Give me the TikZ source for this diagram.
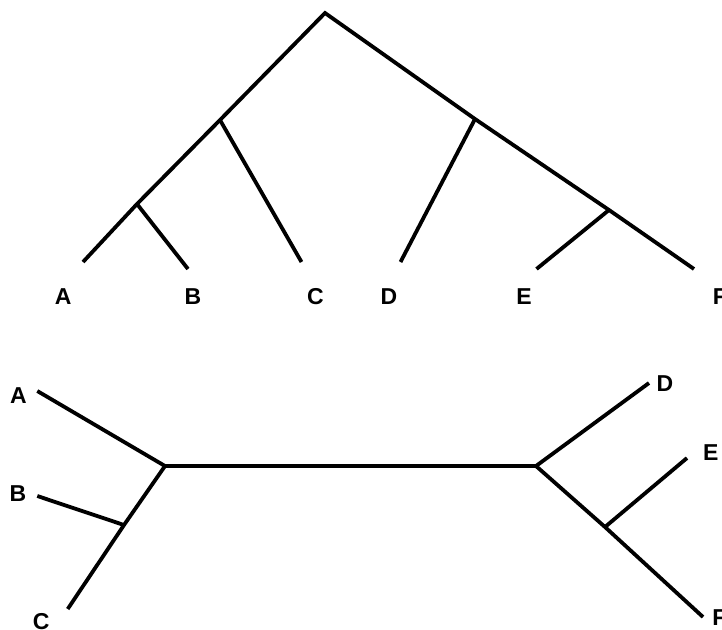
\documentclass[tikz,border=0pt]{standalone}
\usepackage{fontspec}
\setmainfont{Liberation Sans}
\begin{document}
\begin{tikzpicture}[x=1pt,y=-1pt,
  edge/.style={line width=3.8pt, line join=miter},
  leaf/.style={inner sep=0pt, font=\fontsize{23}{27}\selectfont\bfseries}]
\useasboundingbox (0,0) rectangle (722,629);
% ---- top rooted tree ----
\coordinate (root) at (325,13);
\coordinate (tl1) at (220,120);
\coordinate (tl2) at (137,204);
\coordinate (tr1) at (475,119);
\coordinate (tr2) at (609,210);
\coordinate (tA) at (83,262);
\coordinate (tB) at (188,269);
\coordinate (tC) at (301.5,262);
\coordinate (tD) at (400.5,262);
\coordinate (tE) at (536.5,269);
\coordinate (tF) at (694,269);
\draw[edge] (tA) -- (tl2) -- (tl1) -- (root) -- (tr1) -- (tr2) -- (tF);
\draw[edge] (tl2) -- (tB);
\draw[edge] (tl1) -- (tC);
\draw[edge] (tr1) -- (tD);
\draw[edge] (tr2) -- (tE);
\node[leaf] (LtA) at (63.3,297) {A};
\node[leaf] (LtB) at (193,297) {B};
\node[leaf] (LtC) at (315.5,297) {C};
\node[leaf] (LtD) at (389,297) {D};
\node[leaf] (LtE) at (524,297) {E};
\node[leaf] (LtF) at (720,297) {F};
% ---- bottom unrooted tree ----
\coordinate (bl) at (165,466);
\coordinate (br) at (536,466);
\coordinate (bl2) at (124,525);
\coordinate (br2) at (605,527);
\coordinate (bA) at (37.3,391);
\coordinate (bB) at (37.3,496);
\coordinate (bC) at (67.7,609);
\coordinate (bD) at (649,383);
\coordinate (bE) at (687,458);
\coordinate (bF) at (703,617);
\draw[edge] (bA) -- (bl) -- (br) -- (bD);
\draw[edge] (bl) -- (bl2) -- (bC);
\draw[edge] (bl2) -- (bB);
\draw[edge] (br) -- (br2) -- (bF);
\draw[edge] (br2) -- (bE);
\node[leaf] (LbA) at (18.5,396) {A};
\node[leaf] (LbB) at (18,494) {B};
\node[leaf] (LbC) at (41.3,622) {C};
\node[leaf] (LbD) at (665,383.3) {D};
\node[leaf] (LbE) at (710.7,452.5) {E};
\node[leaf] (LbF) at (719.5,618) {F};
\end{tikzpicture}
\end{document}
